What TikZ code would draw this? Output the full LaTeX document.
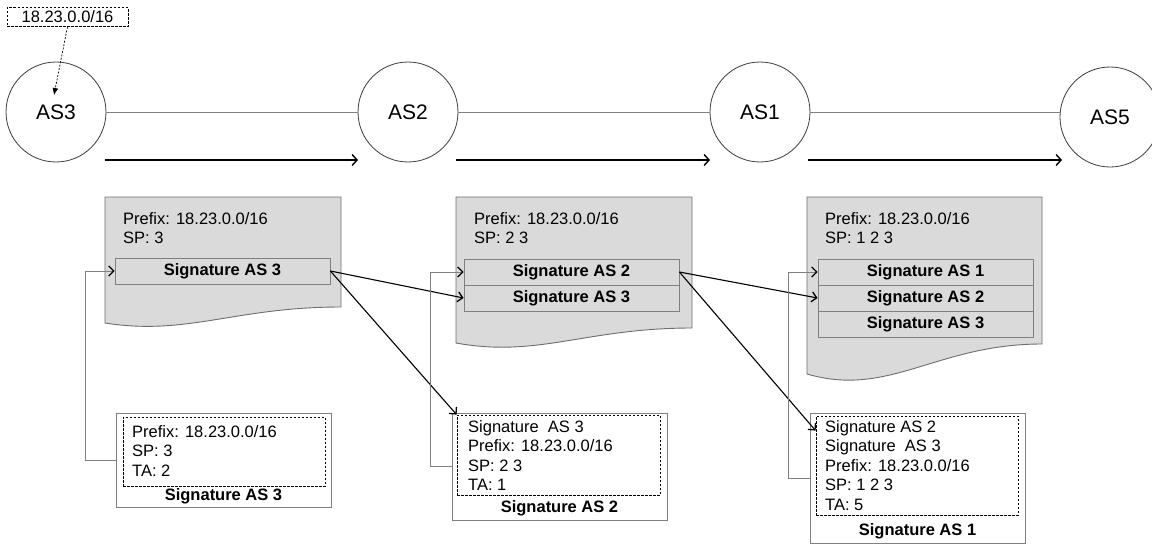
\documentclass[tikz,border=0pt]{standalone}
\usepackage{fontspec}
\setmainfont{Liberation Sans}
\usetikzlibrary{arrows.meta,calc}
\definecolor{docfill}{HTML}{DADADA}
\definecolor{docline}{HTML}{6E6E6E}
\definecolor{boxline}{HTML}{808080}
\definecolor{ringline}{HTML}{3C3C3C}
\begin{document}
\begin{tikzpicture}[x=1pt,y=-1pt,
  txt/.style={font=\fontsize{16.5}{19.5}\selectfont},
  asnode/.style={circle,draw=ringline,line width=0.8pt,minimum size=100pt,inner sep=0pt,font=\fontsize{21}{24}\selectfont},
  link/.style={draw=boxline,line width=0.8pt},
  flow/.style={line width=1.4pt,-{Straight Barb[length=5pt,width=11pt,line width=1.4pt]}},
  docshape/.style={fill=docfill,draw=docline,line width=0.9pt},
  sigrow/.style={rectangle,draw=boxline,fill=docfill,line width=0.8pt,minimum width=215pt,minimum height=26pt,inner sep=0pt,font=\fontsize{16.5}{19.5}\selectfont\bfseries},
  certbox/.style={rectangle,draw=boxline,fill=white,line width=0.9pt,inner sep=0pt},
  certin/.style={rectangle,draw=black,dashed,dash pattern=on 2.5pt off 1.5pt,line width=0.8pt,inner sep=0pt},
  certtxt/.style={txt,align=left,anchor=north west,inner sep=0pt},
  certname/.style={font=\fontsize{16.5}{19.5}\selectfont\bfseries,anchor=base,inner sep=0pt},
  sigarrow/.style={line width=1.1pt,-{Straight Barb[length=5pt,width=10pt,line width=1.3pt]}},
  back/.style={draw=boxline,line width=0.9pt,-{Straight Barb[length=5pt,width=10pt,line width=1.3pt,color=black]}}
]
\useasboundingbox (0,0) rectangle (1152,544);

% announced prefix
\node[draw=black,dashed,dash pattern=on 2.5pt off 1.5pt,line width=0.8pt,minimum width=121pt,minimum height=19pt,inner sep=0pt,txt] (pfx) at (67.5,17) {18.23.0.0/16};
\coordinate (pfxin) at (54,95);
\draw[line width=0.7pt,dash pattern=on 2pt off 1.5pt,-{Latex[length=7pt,width=6pt]}] (pfx.south) -- (pfxin);

% autonomous systems
\node[asnode] (as3) at (56,112) {AS3};
\node[asnode] (as2) at (408,112) {AS2};
\node[asnode] (as1) at (760,112) {AS1};
\node[asnode] (as5) at (1110,117) {AS5};
\draw[link] (as3) -- (as2);
\draw[link] (as2) -- (as1);
\draw[link] (as1.east) -- (as1.east -| as5.west);

% direction of the announcement
\coordinate (f1a) at (105,160); \coordinate (f1b) at (358,160);
\coordinate (f2a) at (456,160); \coordinate (f2b) at (710,160);
\coordinate (f3a) at (808,160); \coordinate (f3b) at (1062,160);
\draw[flow] (f1a) -- (f1b);
\draw[flow] (f2a) -- (f2b);
\draw[flow] (f3a) -- (f3b);

% update messages
\draw[docshape] (105,197) -- (341,197) -- (341,307) .. controls (234.8,307) and (187.6,336) .. (105,323) -- cycle;
\draw[docshape] (456,197) -- (692,197) -- (692,328) .. controls (585.8,328) and (538.6,358) .. (456,343) -- cycle;
\draw[docshape] (807,197) -- (1042,197) -- (1042,344) .. controls (936.25,344) and (889.25,398) .. (807,374) -- cycle;

\node[txt,align=left,anchor=north west,inner sep=0pt] (u1) at (123,212) {Prefix: 18.23.0.0/16\\SP: 3};
\node[txt,align=left,anchor=north west,inner sep=0pt] (u2) at (474,212) {Prefix: 18.23.0.0/16\\SP: 2 3};
\node[txt,align=left,anchor=north west,inner sep=0pt] (u3) at (825,212) {Prefix: 18.23.0.0/16\\SP: 1 2 3};

\node[sigrow] (d1s3) at (222.5,271) {Signature AS 3};
\node[sigrow] (d2s2) at (571.5,272) {Signature AS 2};
\node[sigrow] (d2s3) at (571.5,298) {Signature AS 3};
\node[sigrow] (d3s1) at (925.5,272) {Signature AS 1};
\node[sigrow] (d3s2) at (925.5,298) {Signature AS 2};
\node[sigrow] (d3s3) at (925.5,324) {Signature AS 3};

% signed route attestations
\node[certbox,minimum width=215pt,minimum height=94pt] (cert1) at (223.5,460) {};
\node[certin,minimum width=202pt,minimum height=69pt] (cert1in) at (224,451.5) {};
\node[certtxt] at (132,425) {Prefix: 18.23.0.0/16\\SP: 3\\TA: 2};
\node[certname] at (223.5,500) {Signature AS 3};

\node[certbox,minimum width=215pt,minimum height=107pt] (cert2) at (559.5,466.5) {};
\node[certin,minimum width=203pt,minimum height=80pt] (cert2in) at (558.5,455) {};
\node[certtxt] at (468,420) {Signature\ \ AS 3\\Prefix: 18.23.0.0/16\\SP: 2 3\\TA: 1};
\node[certname] at (559.5,512) {Signature AS 2};

\node[certbox,minimum width=215pt,minimum height=130pt] (cert3) at (917.5,478) {};
\node[certin,minimum width=202pt,minimum height=99pt] (cert3in) at (917,465.5) {};
\node[certtxt] at (825,420) {Signature AS 2\\Signature\ \ AS 3\\Prefix: 18.23.0.0/16\\SP: 1 2 3\\TA: 5};
\node[certname] at (917.5,535) {Signature AS 1};

% signature chaining
\draw[sigarrow] (d1s3.east) -- (d2s3.west);
\draw[sigarrow] (d1s3.east) -- (cert2in.north west);
\draw[sigarrow] (d2s2.east) -- (d3s2.west);
\draw[sigarrow] (d2s2.east) -- ($(cert3in.north west)+(0,15)$);

% attestations feeding each signature
\draw[back] (cert1.west) -- ++(-30,0) |- (d1s3.west);
\draw[back] (cert2.west) -- ++(-21,0) |- (d2s2.west);
\draw[back] (cert3.west) -- ++(-21,0) |- (d3s1.west);
\end{tikzpicture}
\end{document}
